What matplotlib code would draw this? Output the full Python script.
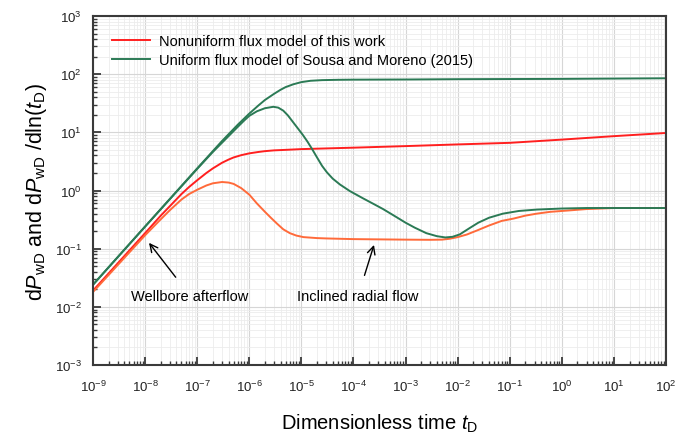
import numpy as np
import matplotlib
matplotlib.use('Agg')
import matplotlib.pyplot as plt
from matplotlib.ticker import LogLocator, NullFormatter

plt.rcParams['font.family'] = ['Liberation Sans', 'DejaVu Sans']
plt.rcParams['mathtext.fontset'] = 'custom'
plt.rcParams['mathtext.rm'] = 'Liberation Sans'
plt.rcParams['mathtext.it'] = 'Liberation Sans:italic'

# pressure, uniform flux model (Sousa and Moreno)
t_gp = [1e-9, 1e-8, 1e-7, 3e-7, 6e-7, 1e-6, 1.5e-6, 2e-6, 3e-6, 4e-6, 5e-6, 7e-6, 1e-5,
        1.5e-5, 2.5e-5, 5e-5, 1e-4, 1e-3, 1e-2, 1e-1, 1, 10, 100]
gp = [0.024, 0.24, 2.4, 7.1, 13.5, 21, 29, 36, 46, 54, 60, 67, 73,
      77, 79, 80, 80.5, 81, 82, 82.5, 83, 84, 85]

# derivative, uniform flux model
t_gd = [1e-9, 1e-8, 1e-7, 2e-7, 4e-7, 6e-7, 8e-7, 1e-6, 1.4e-6, 2e-6, 2.9e-6, 3.6e-6, 4.5e-6,
        5.5e-6, 7e-6, 8.5e-6, 1.07e-5, 1.3e-5, 1.6e-5, 2e-5, 2.5e-5, 3.1e-5, 4e-5, 5.5e-5,
        8.5e-5, 1.5e-4, 2.5e-4, 3.7e-4, 6e-4, 1e-3, 1.5e-3, 2.5e-3, 4e-3, 5.8e-3, 8e-3,
        1.1e-2, 1.7e-2, 2.5e-2, 4e-2, 7.4e-2, 0.15, 0.33, 1, 3, 10, 100]
gd = [0.024, 0.24, 2.35, 4.6, 8.6, 12.4, 16, 19.2, 23, 26, 27.5, 26.6, 23.6,
      19.6, 14.8, 11.8, 9.0, 7.0, 5.2, 3.7, 2.65, 2.05, 1.6, 1.27,
      0.98, 0.74, 0.58, 0.48, 0.37, 0.28, 0.23, 0.185, 0.164, 0.156, 0.16,
      0.176, 0.226, 0.28, 0.34, 0.40, 0.445, 0.47, 0.49, 0.50, 0.50, 0.50]

# pressure, nonuniform flux model (this work)
t_rp = [1e-9, 1e-8, 2e-8, 3e-8, 5e-8, 7e-8, 1e-7, 1.5e-7, 2e-7, 3e-7, 4e-7, 5e-7, 7e-7,
        1e-6, 1.5e-6, 2e-6, 3e-6, 5e-6, 1e-5, 1e-4, 1e-3, 1e-2, 1e-1, 1, 10, 100]
rp = [0.019, 0.185, 0.37, 0.54, 0.87, 1.15, 1.5, 2.0, 2.4, 3.0, 3.4, 3.7, 4.05,
      4.35, 4.6, 4.75, 4.9, 5.0, 5.15, 5.45, 5.8, 6.2, 6.6, 7.5, 8.6, 9.75]

# derivative, nonuniform flux model
t_rd = [1e-9, 1e-8, 2e-8, 3e-8, 5e-8, 7e-8, 1e-7, 1.5e-7, 2e-7, 3e-7, 4e-7, 5e-7, 7e-7,
        1e-6, 1.4e-6, 2e-6, 2.6e-6, 3.4e-6, 4.5e-6, 6e-6, 8e-6, 1.1e-5, 2e-5, 3e-5,
        1e-4, 1e-3, 3e-3, 5e-3, 7e-3, 1e-2, 1.5e-2, 2.5e-2, 4e-2, 7e-2, 0.12, 0.2,
        0.33, 0.6, 1.4, 3, 10, 100]
rd = [0.018, 0.17, 0.32, 0.46, 0.7, 0.87, 1.03, 1.22, 1.33, 1.4, 1.37, 1.3, 1.1,
      0.85, 0.6, 0.43, 0.34, 0.27, 0.215, 0.185, 0.168, 0.158, 0.152, 0.15,
      0.146, 0.143, 0.142, 0.143, 0.148, 0.158, 0.175, 0.21, 0.25, 0.30, 0.33, 0.37,
      0.40, 0.43, 0.455, 0.48, 0.50, 0.50]

red = '#ff1f1f'
orange = '#ff6a3a'
green = '#2b7a55'

fig = plt.figure(figsize=(6.93, 4.35), dpi=100)
ax = fig.add_axes([0.1342, 0.1586, 0.8268, 0.8023])

ax.plot(t_rp, rp, color=red, lw=1.4, label='Nonuniform flux model of this work')
ax.plot(t_rd, rd, color=orange, lw=1.4)
ax.plot(t_gp, gp, color=green, lw=1.4, label='Uniform flux model of Sousa and Moreno (2015)')
ax.plot(t_gd, gd, color=green, lw=1.4)

ax.set_xscale('log')
ax.set_yscale('log')
ax.set_xlim(1e-9, 1e2)
ax.set_ylim(1e-3, 1e3)

ax.xaxis.set_major_locator(LogLocator(base=10, numticks=20))
ax.xaxis.set_minor_locator(LogLocator(base=10, subs=np.arange(2, 10), numticks=20))
ax.yaxis.set_major_locator(LogLocator(base=10, numticks=20))
ax.yaxis.set_minor_locator(LogLocator(base=10, subs=np.arange(2, 10), numticks=20))
ax.xaxis.set_minor_formatter(NullFormatter())
ax.yaxis.set_minor_formatter(NullFormatter())

ax.grid(which='major', color='#d6d6d6', lw=0.8)
ax.grid(which='minor', color='#ececec', lw=0.6)
ax.set_axisbelow(True)

for s in ax.spines.values():
    s.set_color('#3a3a3a')
    s.set_linewidth(1.5)
ax.tick_params(which='both', direction='in', top=False, right=False, colors='#3a3a3a',
               labelcolor='#222222', labelsize=9.5)
ax.tick_params(which='major', length=6, width=1.3, pad=10)
ax.tick_params(which='minor', length=3, width=1.0)
ax.tick_params(axis='y', which='major', pad=8)

ax.set_xlabel(r'Dimensionless time $t_{\mathrm{D}}$', fontsize=14.5, labelpad=13)
ax.set_ylabel(r'd$P_{\mathrm{wD}}$ and d$P_{\mathrm{wD}}$ /dln($t_{\mathrm{D}}$)', fontsize=15.5, labelpad=4)

ax.legend(loc='upper left', frameon=False, fontsize=10.5, handlelength=2.6,
          handletextpad=0.6, bbox_to_anchor=(0.01, 0.985), labelspacing=0.35)

ax.annotate('Wellbore afterflow', xy=(1.19e-8, 0.126), xytext=(7.3e-8, 0.0155),
            ha='center', va='center', fontsize=10.5,
            arrowprops=dict(arrowstyle='->', color='black', lw=1.0, shrinkA=8, shrinkB=0,
                            mutation_scale=14))
ax.annotate('Inclined radial flow', xy=(2.48e-4, 0.116), xytext=(1.23e-4, 0.0155),
            ha='center', va='center', fontsize=10.5,
            arrowprops=dict(arrowstyle='->', color='black', lw=1.0, shrinkA=8, shrinkB=0,
                            mutation_scale=14))

fig.savefig('out.png', dpi=100)
